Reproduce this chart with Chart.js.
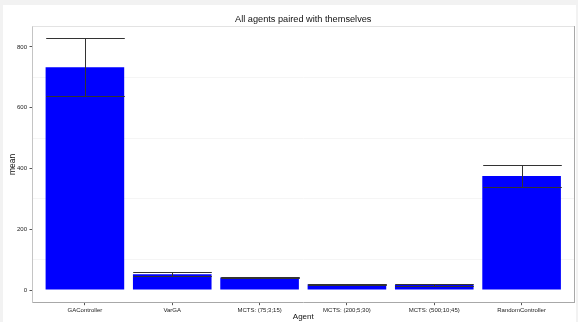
<!DOCTYPE html>
<html lang="en">
<head>
  <meta charset="UTF-8" />
  <title>All agents paired with themselves</title>
  <script src="https://cdn.jsdelivr.net/npm/chart.js"></script>
  <style>
    html, body {
      margin: 0;
      padding: 0;
      background: #f2f2f2;
      width: 578px;
      height: 322px;
      overflow: hidden;
    }
    .wrap {
      position: absolute;
      left: 3px;
      top: 5px;
      width: 573px;
      height: 317px;
      background: #fff;
    }
  </style>
</head>
<body>
  <div class="wrap"><canvas id="chart" width="573" height="317"></canvas></div>

  <script>
    const agents = ['GAController', 'VarGA', 'MCTS: (75;3;15)', 'MCTS: (200;5;30)', 'MCTS: (500;10;45)', 'RandomController'];
    const means = [733, 52, 41, 19, 16.5, 375];
    const errors = [95, 7, 3, 2, 2, 37];
    const yTicks = [0, 100, 200, 300, 400, 500, 600, 700, 800];

    const font = 'Liberation Sans, Arial, sans-serif';

    // top + right edges of the panel box
    const panelBox = {
      id: 'panelBox',
      beforeDatasetsDraw(chart) {
        const { ctx, chartArea: a } = chart;
        ctx.save();
        ctx.lineWidth = 1;
        ctx.strokeStyle = '#e3e3e3';
        ctx.beginPath();
        ctx.moveTo(a.left, Math.round(a.top) + 0.5);
        ctx.lineTo(a.right, Math.round(a.top) + 0.5);
        ctx.stroke();
        ctx.strokeStyle = '#a8a8a8';
        ctx.beginPath();
        ctx.moveTo(Math.round(a.right) + 0.5, a.top);
        ctx.lineTo(Math.round(a.right) + 0.5, a.bottom);
        ctx.stroke();
        ctx.restore();
      }
    };

    const errorBars = {
      id: 'errorBars',
      afterDatasetsDraw(chart) {
        const { ctx, scales } = chart;
        const meta = chart.getDatasetMeta(0);
        ctx.save();
        ctx.lineWidth = 1;
        ctx.strokeStyle = '#333';
        means.forEach((m, i) => {
          const bar = meta.data[i];
          const x = Math.round(scales.x.getPixelForValue(i + 1)) + 0.5;
          const half = bar.width / 2;
          const yTop = Math.round(scales.y.getPixelForValue(m + errors[i])) + 0.5;
          const yBot = Math.round(scales.y.getPixelForValue(m - errors[i])) + 0.5;
          ctx.beginPath();
          ctx.moveTo(x - half, yTop); ctx.lineTo(x + half, yTop);
          ctx.moveTo(x - half, yBot); ctx.lineTo(x + half, yBot);
          ctx.moveTo(x, yTop); ctx.lineTo(x, yBot);
          ctx.stroke();
        });
        ctx.restore();
      }
    };

    new Chart(document.getElementById('chart'), {
      type: 'bar',
      data: {
        datasets: [{
          data: means.map((m, i) => ({ x: i + 1, y: m })),
          backgroundColor: '#0000ff',
          borderWidth: 0,
          categoryPercentage: 1,
          barPercentage: 0.9
        }]
      },
      options: {
        responsive: false,
        animation: false,
        layout: { padding: { left: 0, right: 2, top: 0, bottom: 0 } },
        plugins: {
          legend: { display: false },
          tooltip: { enabled: false },
          title: {
            display: true,
            text: 'All agents paired with themselves',
            fullSize: false,
            color: '#111',
            font: { family: font, size: 9.2, weight: 'normal' },
            padding: { top: 9.3, bottom: 0.7 }
          }
        },
        scales: {
          x: {
            type: 'linear',
            min: 0.4,
            max: 6.6,
            offset: false,
            afterBuildTicks: s => { s.ticks = agents.map((a, i) => ({ value: i + 1 })); },
            afterFit: s => { s.height = 19.3; },
            ticks: {
              autoSkip: false,
              maxRotation: 0,
              padding: 1.8,
              color: '#222',
              font: { family: font, size: 6 },
              callback: v => agents[v - 1]
            },
            grid: { drawOnChartArea: false, offset: false, tickLength: 2.5, tickColor: '#555' },
            border: { color: '#a8a8a8' },
            title: {
              display: true,
              text: 'Agent',
              color: '#111',
              font: { family: font, size: 8 },
              padding: { top: 0, bottom: 0 }
            }
          },
          y: {
            min: -41.8,
            max: 869,
            afterBuildTicks: s => { s.ticks = yTicks.map(v => ({ value: v })); },
            afterFit: s => { s.width = 29.5; },
            ticks: {
              autoSkip: false,
              padding: 2.5,
              color: '#222',
              font: { family: font, size: 6 },
              callback: v => (v % 200 === 0 ? v : '')
            },
            grid: {
              tickLength: 3,
              color: c => (c.tick && c.tick.value % 200 !== 0 ? '#f5f5f5' : 'rgba(0,0,0,0)'),
              tickColor: c => (c.tick && c.tick.value % 200 !== 0 ? 'rgba(0,0,0,0)' : '#555')
            },
            border: { color: '#c4c4c4' },
            title: {
              display: true,
              text: 'mean',
              color: '#111',
              font: { family: font, size: 8.5 },
              padding: { top: 4.9, bottom: 0 }
            }
          }
        }
      },
      plugins: [panelBox, errorBars]
    });
  </script>
</body>
</html>
